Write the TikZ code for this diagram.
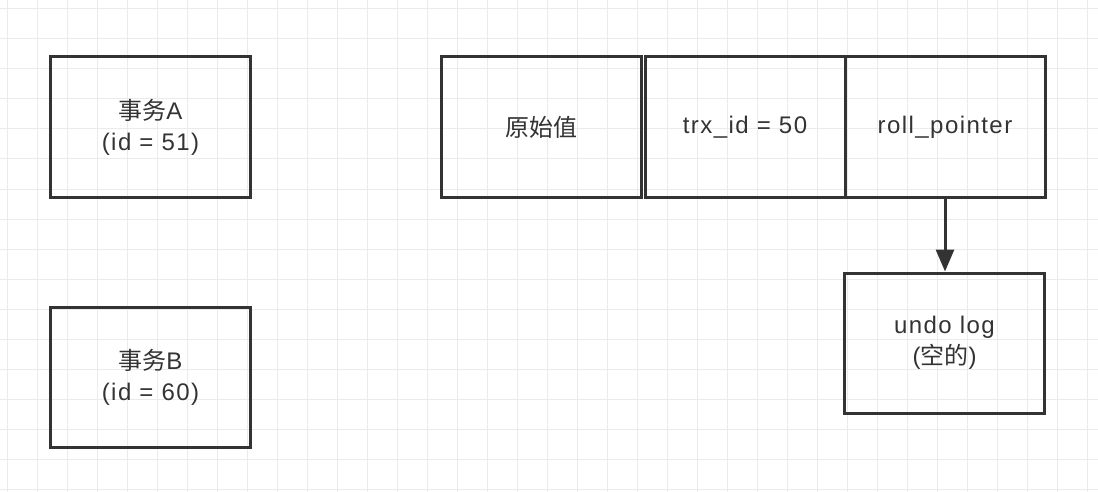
\documentclass[tikz,border=0pt]{standalone}
\usepackage{fontspec}
\setmainfont{Liberation Sans}[LetterSpace=6]
\newfontfamily\cjk{Noto Sans CJK SC}
\usetikzlibrary{arrows.meta}
\definecolor{boxline}{HTML}{333333}
\definecolor{gridline}{HTML}{EBEBEB}
\tikzset{
  cell/.style={draw=boxline, line width=3pt, minimum width=200pt, minimum height=140pt,
    inner sep=0pt, align=center, text=boxline, font=\fontsize{24}{31}\selectfont},
  link/.style={draw=boxline, line width=3pt, -{Triangle[length=22pt,width=18pt]}}
}
\begin{document}
\begin{tikzpicture}[x=1pt,y=-1pt]
                \useasboundingbox (0,0) rectangle (1098,492);
                \fill[white] (0,0) rectangle (1098,492);
                \foreach \x in {7,37,...,1097} \draw[gridline, line width=1pt] (\x,0) -- (\x,492);
                \foreach \y in {9,39,...,489} \draw[gridline, line width=1pt] (0,\y) -- (1098,\y);
                \node[cell] (trxA) at (150.5,127) {{\cjk 事务}A\\({id = 51})};
                \node[cell] (trxB) at (150.5,377) {{\cjk 事务}B\\({id = 60})};
                \node[cell] (orig) at (541,127) {\cjk 原始值};
                \node[cell] (trxid) at (745,127) {trx\_id = 50};
                \node[cell] (rollptr) at (945,127) {roll\_pointer};
                \node[cell] (undo) at (944.5,343) {undo log\\({\cjk 空的})};
                \draw[link] (rollptr.south) -- (rollptr.south |- undo.north);
            \end{tikzpicture}
\end{document}
